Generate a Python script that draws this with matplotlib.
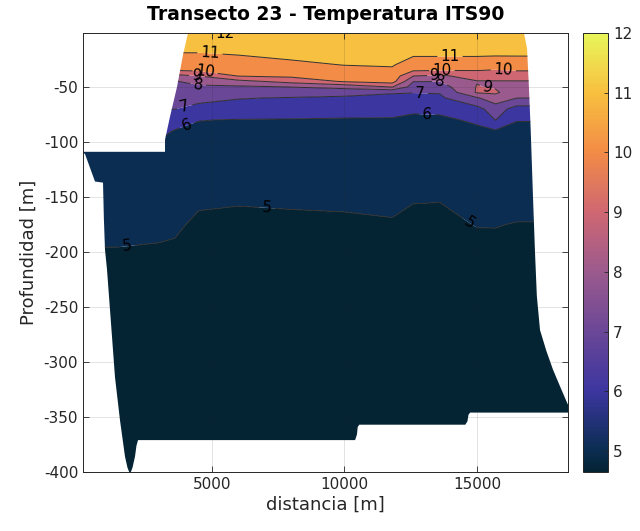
import numpy as np
import matplotlib
matplotlib.use('Agg')
import matplotlib.pyplot as plt
from matplotlib.colors import LinearSegmentedColormap, Normalize
from matplotlib.patches import Polygon
from matplotlib.cm import ScalarMappable

plt.rcParams['font.family'] = 'DejaVu Sans'
plt.rcParams['axes.unicode_minus'] = False

# estaciones del transecto [m] y niveles de profundidad [m]
distancia = [130, 1500, 3000, 3600, 4500, 6000, 8000, 10000, 11800,
             12600, 13600, 15000, 15700, 16500, 18500]
profundidad = [-1, -10, -20, -30, -35, -40, -45, -50, -55, -60, -70,
               -80, -90, -100, -125, -150, -175, -200, -250, -400]

# perfiles de temperatura (uno por estacion, de superficie a fondo)
perfiles = [
    [11.8, 11.4, 10.9, 10.3, 9.8, 9.0, 8.2, 7.8, 7.5, 7.3, 6.9, 6.5, 6.1, 5.85, 5.55, 5.35, 5.15, 4.97, 4.8, 4.65],
    [11.8, 11.4, 10.9, 10.3, 9.8, 9.0, 8.2, 7.8, 7.5, 7.3, 6.9, 6.5, 6.1, 5.85, 5.55, 5.35, 5.14, 4.97, 4.8, 4.65],
    [11.8, 11.4, 10.95, 10.4, 10.02, 9.3, 8.4, 7.9, 7.6, 7.4, 7.02, 6.6, 6.25, 5.95, 5.6, 5.35, 5.1, 4.95, 4.8, 4.65],
    [11.85, 11.45, 10.95, 10.35, 10.02, 8.7, 7.95, 7.75, 7.55, 7.4, 7.02, 6.45, 5.95, 5.8, 5.55, 5.3, 5.07, 4.93, 4.8, 4.65],
    [12.02, 11.45, 10.95, 10.4, 10.12, 9.02, 8.3, 7.85, 7.6, 7.3, 6.7, 6.02, 5.85, 5.75, 5.5, 5.08, 4.92, 4.88, 4.78, 4.65],
    [12.02, 11.5, 11.05, 10.6, 10.3, 10.05, 8.7, 7.85, 7.45, 7.05, 6.6, 5.97, 5.85, 5.75, 5.45, 5.05, 4.9, 4.82, 4.75, 4.65],
    [12.02, 11.6, 11.25, 10.8, 10.5, 10.2, 9.35, 8.02, 7.5, 6.95, 6.5, 5.95, 5.85, 5.75, 5.45, 5.1, 4.88, 4.8, 4.74, 4.65],
    [12.02, 11.65, 11.35, 11.02, 10.7, 10.4, 10.1, 8.3, 7.35, 6.85, 6.35, 5.93, 5.84, 5.74, 5.45, 5.12, 4.9, 4.8, 4.73, 4.65],
    [11.95, 11.7, 11.4, 11.08, 10.85, 10.6, 10.4, 9.05, 7.05, 6.85, 6.4, 5.9, 5.82, 5.72, 5.42, 5.15, 4.95, 4.82, 4.74, 4.65],
    [11.9, 11.5, 11.15, 10.5, 10.08, 9.02, 8.02, 7.6, 7.02, 6.85, 6.1, 5.88, 5.8, 5.7, 5.4, 5.04, 4.88, 4.8, 4.73, 4.65],
    [11.9, 11.5, 11.15, 10.5, 10.02, 8.85, 8.02, 7.55, 7.05, 6.85, 6.15, 5.88, 5.8, 5.7, 5.4, 5.03, 4.88, 4.8, 4.73, 4.65],
    [11.9, 11.5, 11.15, 10.5, 10.02, 9.4, 8.95, 9.05, 9.1, 7.9, 6.7, 6.1, 5.88, 5.78, 5.5, 5.2, 5.02, 4.85, 4.75, 4.65],
    [11.9, 11.5, 11.15, 10.35, 9.95, 9.4, 8.95, 8.9, 9.15, 8.6, 7.5, 7.02, 5.9, 5.8, 5.5, 5.2, 5.02, 4.87, 4.76, 4.65],
    [11.9, 11.5, 11.15, 10.4, 10.05, 9.45, 8.95, 8.7, 8.4, 8.02, 6.6, 6.02, 5.88, 5.78, 5.5, 5.2, 4.98, 4.86, 4.75, 4.65],
    [11.9, 11.5, 11.15, 10.4, 10.05, 9.45, 8.95, 8.7, 8.4, 8.02, 6.6, 6.02, 5.88, 5.78, 5.5, 5.2, 4.98, 4.86, 4.75, 4.65],
]

# contorno de la zona con datos (superficie, fondo y extremos)
borde_dist = [132, 3227, 3227, 3416, 3680, 3906, 4095, 16775, 16890, 16960,
              17028, 17115, 17190, 17260, 17380, 17620, 17870, 18150, 18400,
              18500, 18500, 14740, 14680, 14640, 14560, 10560, 10500, 10470,
              10400, 2208, 2150, 2094, 2000, 1906, 1810, 1717, 1528, 1340,
              1226, 1038, 962, 920, 887, 585, 207, 132]
borde_prof = [-109, -109, -98, -77, -50, -21, -1, -1, -15, -50,
              -89, -150, -200, -240, -271, -290, -307, -323, -337,
              -342, -346, -346, -348, -354, -357, -357, -359, -366,
              -371, -371, -376, -386, -396, -402, -396, -386, -353, -314,
              -277, -216, -198, -170, -137, -136, -111, -110]

niveles = [5, 6, 7, 8, 9, 10, 11, 12]
t_min, t_max = 4.65, 12.0

# posiciones de las etiquetas de isotermas
etiquetas = [(5491, -3), (4925, -18), (13983, -21), (4736, -37), (13681, -32),
             (15985, -38), (4434, -40), (13417, -38), (15381, -52), (4472, -49),
             (13606, -45), (3982, -69), (12850, -55), (4057, -85), (13115, -75),
             (1793, -196), (7076, -160), (14813, -170)]

# paleta tipo "thermal"
anclas_t = [4.65, 5.0, 6.0, 7.0, 8.0, 9.0, 10.0, 11.0, 12.0]
anclas_c = ['#042333', '#0b2d51', '#3c36a0', '#6b4797', '#9b5a8d',
            '#cf6772', '#f28b46', '#f8bf3f', '#e8f65a']
norm = Normalize(vmin=t_min, vmax=t_max)
cmap = LinearSegmentedColormap.from_list(
    'thermal', [(norm(t), c) for t, c in zip(anclas_t, anclas_c)])

X, Y = np.meshgrid(distancia, profundidad)
Z = np.array(perfiles).T

fig = plt.figure(figsize=(6.4, 5.31), dpi=100)
ax = fig.add_axes([0.1297, 0.1111, 0.7578, 0.8268])

bordes = [t_min - 0.1] + niveles + [t_max + 1]
colores = [cmap(norm(v)) for v in [t_min] + niveles]
cf = ax.contourf(X, Y, Z, levels=bordes, colors=colores, antialiased=True)
cs = ax.contour(X, Y, Z, levels=niveles, colors='#303030', linewidths=0.7)
ax.clabel(cs, fmt='%d', fontsize=11, colors='k', manual=etiquetas,
          inline=True, inline_spacing=3)

zona = Polygon(np.column_stack([borde_dist, borde_prof]), closed=True,
               transform=ax.transData, facecolor='none', edgecolor='none')
cf.set_clip_path(zona)
cs.set_clip_path(zona)

ax.set_xlim(132, 18436)
ax.set_ylim(-400, -1)
ax.set_xticks([5000, 10000, 15000])
ax.set_yticks(np.arange(-400, -49, 50))
texto = '#262626'
ax.tick_params(direction='in', top=True, right=True, length=4, width=0.6,
               labelsize=11, colors=texto)
for s in ax.spines.values():
    s.set_color('#262626')
    s.set_linewidth(0.7)
ax.set_axisbelow(False)
ax.grid(True, color='#262626', alpha=0.15, linewidth=0.6)
ax.set_xlabel('distancia [m]', fontsize=13, color=texto, labelpad=3)
ax.set_ylabel('Profundidad [m]', fontsize=13, color=texto, labelpad=4)
ax.set_title('Transecto 23 - Temperatura ITS90', fontsize=13.5,
             fontweight='bold', color='k', pad=9)

cax = fig.add_axes([0.911, 0.1111, 0.039, 0.8268])
cb = fig.colorbar(ScalarMappable(norm=norm, cmap=cmap), cax=cax,
                  ticks=niveles)
cb.ax.tick_params(direction='in', length=3, width=0.6, labelsize=11,
                  colors=texto)
cb.outline.set_edgecolor('#262626')
cb.outline.set_linewidth(0.7)

fig.savefig('out.png', dpi=100)
